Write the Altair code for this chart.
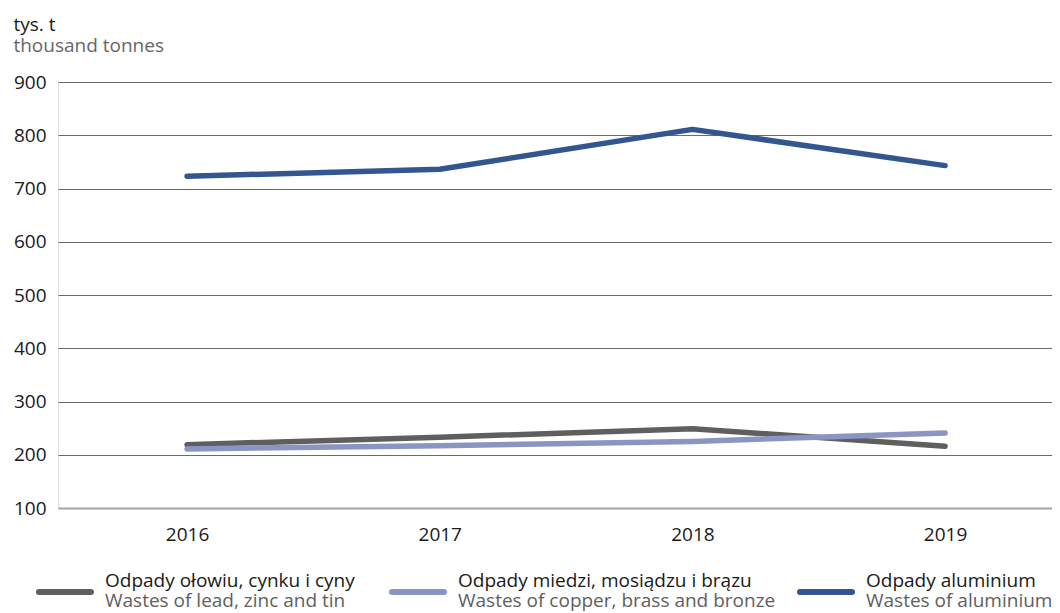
import altair as alt
import pandas as pd

years = ["2016", "2017", "2018", "2019"]
series_pl = ["Odpady ołowiu, cynku i cyny", "Odpady miedzi, mosiądzu i brązu", "Odpady aluminium"]
series_en = ["Wastes of lead, zinc and tin", "Wastes of copper, brass and bronze", "Wastes of aluminium"]
lead = [219, 233, 249, 216]
copper = [211, 217, 225, 241]
aluminium = [723, 736, 811, 743]
colors = ["#5f5f5f", "#8b95c3", "#335691"]
y_ticks = [100, 200, 300, 400, 500, 600, 700, 800, 900]

FONT = "Open Sans"

rows = []
for name, vals in zip(series_pl, [lead, copper, aluminium]):
    for yr, v in zip(years, vals):
        rows.append({"year": yr, "value": v, "series": name})
df = pd.DataFrame(rows)
leg_df = pd.DataFrame({"series": series_pl, "en": series_en, "idx": [0, 1, 2]})

color_scale = alt.Scale(domain=series_pl, range=colors)

lines = alt.Chart(df).mark_line(strokeWidth=5.5, strokeCap="round", strokeJoin="round").encode(
    x=alt.X("year:O", sort=years, title=None,
            scale=alt.Scale(type="point", padding=0.467, align=0.547),
            axis=alt.Axis(labelFont=FONT, labelFontSize=19, labelColor="#1a1a1a",
                          labelAngle=0, labelBaseline="alphabetic", labelPadding=32,
                          domain=False, ticks=False, grid=False)),
    y=alt.Y("value:Q", title=None,
            scale=alt.Scale(domain=[100, 900], nice=False, zero=False),
            axis=alt.Axis(values=y_ticks, labelFont=FONT, labelFontSize=19, labelColor="#1a1a1a",
                          labelPadding=12, domain=False, ticks=False, grid=True,
                          gridColor=alt.condition("datum.value == 100", alt.value("#a3a3a3"), alt.value("#6a6a6a")),
                          gridWidth=alt.condition("datum.value == 100", alt.value(2), alt.value(1.2)))),
    color=alt.Color("series:N", scale=color_scale, legend=None),
    order=alt.Order("year:O"),
)

# legend guide: item left positions (pixels within the plot area)
legend_base = alt.Chart(leg_df).transform_calculate(
    px="[47, 400, 808][datum.idx]"
)
leg_x = alt.X("px:Q", scale=None, axis=None)

leg_sym = legend_base.mark_rule(strokeWidth=6, strokeCap="round", xOffset=-66, x2Offset=-14).encode(
    x=leg_x,
    x2=alt.X2("px:Q"),
    y=alt.value(510),
    color=alt.Color("series:N", scale=color_scale, legend=None),
)

leg_pl = legend_base.mark_text(align="left", baseline="alphabetic", font=FONT, fontSize=19,
                               color="#1a1a1a").encode(
    x=leg_x, y=alt.value(505), text="series:N")

leg_en = legend_base.mark_text(align="left", baseline="alphabetic", font=FONT, fontSize=19,
                               color="#606060").encode(
    x=leg_x, y=alt.value(525), text="en:N")

chart = alt.layer(lines, leg_sym, leg_pl, leg_en).resolve_scale(x="independent").properties(
    width=994, height=426,
    autosize=alt.AutoSizeParams(type="none"),
    padding={"left": 50, "top": 74, "right": 0, "bottom": 105},
    title=alt.TitleParams(text="tys. t", subtitle="thousand tonnes", anchor="start", frame="bounds",
                          font=FONT, fontSize=19, fontWeight="normal", color="#1a1a1a",
                          subtitleFont=FONT, subtitleFontSize=19, subtitleColor="#666666",
                          subtitlePadding=2, offset=17),
).configure_view(stroke=None).configure(background="white")

chart.save("out.html", embed_options={"renderer": "svg", "actions": False})
